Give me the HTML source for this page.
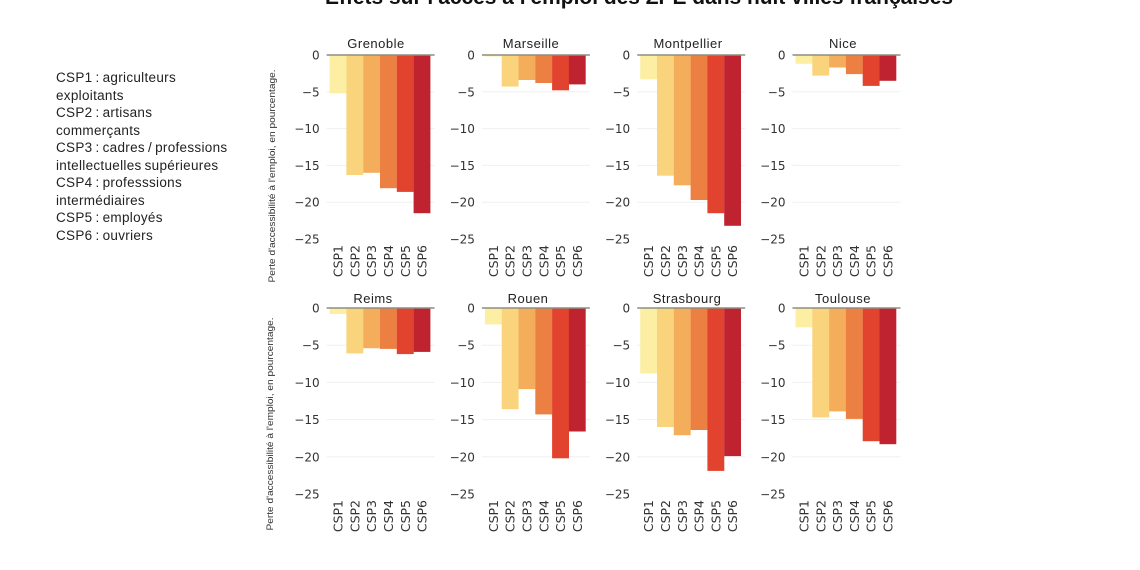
<!DOCTYPE html>
<html><head><meta charset="utf-8"><style>
html,body{margin:0;padding:0;background:#fff;width:1140px;height:570px;overflow:hidden}
svg{display:block}
.tk{font-family:"DejaVu Sans",sans-serif;font-size:12px;fill:#333;text-anchor:end}
.xt{font-family:"DejaVu Sans",sans-serif;font-size:12.5px;fill:#333;text-anchor:end}
.pt{font-family:"Liberation Sans",sans-serif;font-size:13px;fill:#222;text-anchor:middle;letter-spacing:0.5px}
.lg{font-family:"Liberation Sans",sans-serif;font-size:13.5px;fill:#222;letter-spacing:0.3px;word-spacing:-1px}
.yl{font-family:"Liberation Sans",sans-serif;font-size:9px;fill:#333;text-anchor:middle}
.g{stroke:#f0f0f0;stroke-width:1}
.z{stroke:#8e8e80;stroke-width:1.5}
</style></head><body>
<svg width="1140" height="570" viewBox="0 0 1140 570" xmlns="http://www.w3.org/2000/svg">
<text x="325" y="4" font-family="Liberation Sans, sans-serif" font-weight="bold" font-size="21" fill="#111" textLength="628" lengthAdjust="spacingAndGlyphs">Effets sur l'accès à l'emploi des ZPE dans huit villes françaises</text>

<!-- legend -->
<text class="lg" x="56" y="82">CSP1 : agriculteurs</text>
<text class="lg" x="56" y="100">exploitants</text>
<text class="lg" x="56" y="117">CSP2 : artisans</text>
<text class="lg" x="56" y="135">commerçants</text>
<text class="lg" x="56" y="152">CSP3 : cadres / professions</text>
<text class="lg" x="56" y="170">intellectuelles supérieures</text>
<text class="lg" x="56" y="187">CSP4 : professsions</text>
<text class="lg" x="56" y="205">intermédiaires</text>
<text class="lg" x="56" y="222">CSP5 : employés</text>
<text class="lg" x="56" y="240">CSP6 : ouvriers</text>

<!-- y labels -->
<text class="yl" transform="translate(275,176) rotate(-90)" textLength="213" lengthAdjust="spacingAndGlyphs">Perte d'accessibilité à l'emploi, en pourcentage.</text>
<text class="yl" transform="translate(273,424) rotate(-90)" textLength="213" lengthAdjust="spacingAndGlyphs">Perte d'accessibilité à l'emploi, en pourcentage.</text>

<!-- gridlines -->
<g class="g">
<line x1="326.6" x2="434.6" y1="91.8" y2="91.8"/><line x1="326.6" x2="434.6" y1="128.6" y2="128.6"/><line x1="326.6" x2="434.6" y1="165.4" y2="165.4"/><line x1="326.6" x2="434.6" y1="202.2" y2="202.2"/>
<line x1="481.9" x2="589.9" y1="91.8" y2="91.8"/><line x1="481.9" x2="589.9" y1="128.6" y2="128.6"/><line x1="481.9" x2="589.9" y1="165.4" y2="165.4"/><line x1="481.9" x2="589.9" y1="202.2" y2="202.2"/>
<line x1="637.2" x2="745.2" y1="91.8" y2="91.8"/><line x1="637.2" x2="745.2" y1="128.6" y2="128.6"/><line x1="637.2" x2="745.2" y1="165.4" y2="165.4"/><line x1="637.2" x2="745.2" y1="202.2" y2="202.2"/>
<line x1="792.5" x2="900.5" y1="91.8" y2="91.8"/><line x1="792.5" x2="900.5" y1="128.6" y2="128.6"/><line x1="792.5" x2="900.5" y1="165.4" y2="165.4"/><line x1="792.5" x2="900.5" y1="202.2" y2="202.2"/>
<line x1="326.6" x2="434.6" y1="345.2" y2="345.2"/><line x1="326.6" x2="434.6" y1="382.4" y2="382.4"/><line x1="326.6" x2="434.6" y1="419.6" y2="419.6"/><line x1="326.6" x2="434.6" y1="456.8" y2="456.8"/>
<line x1="481.9" x2="589.9" y1="345.2" y2="345.2"/><line x1="481.9" x2="589.9" y1="382.4" y2="382.4"/><line x1="481.9" x2="589.9" y1="419.6" y2="419.6"/><line x1="481.9" x2="589.9" y1="456.8" y2="456.8"/>
<line x1="637.2" x2="745.2" y1="345.2" y2="345.2"/><line x1="637.2" x2="745.2" y1="382.4" y2="382.4"/><line x1="637.2" x2="745.2" y1="419.6" y2="419.6"/><line x1="637.2" x2="745.2" y1="456.8" y2="456.8"/>
<line x1="792.5" x2="900.5" y1="345.2" y2="345.2"/><line x1="792.5" x2="900.5" y1="382.4" y2="382.4"/><line x1="792.5" x2="900.5" y1="419.6" y2="419.6"/><line x1="792.5" x2="900.5" y1="456.8" y2="456.8"/>
</g>

<!-- y tick labels -->
<g class="tk">
<text x="319.6" y="59.5">0</text><text x="319.6" y="96.3">−5</text><text x="319.6" y="133.1">−10</text><text x="319.6" y="169.9">−15</text><text x="319.6" y="206.7">−20</text><text x="319.6" y="243.5">−25</text>
<text x="474.9" y="59.5">0</text><text x="474.9" y="96.3">−5</text><text x="474.9" y="133.1">−10</text><text x="474.9" y="169.9">−15</text><text x="474.9" y="206.7">−20</text><text x="474.9" y="243.5">−25</text>
<text x="630.2" y="59.5">0</text><text x="630.2" y="96.3">−5</text><text x="630.2" y="133.1">−10</text><text x="630.2" y="169.9">−15</text><text x="630.2" y="206.7">−20</text><text x="630.2" y="243.5">−25</text>
<text x="785.5" y="59.5">0</text><text x="785.5" y="96.3">−5</text><text x="785.5" y="133.1">−10</text><text x="785.5" y="169.9">−15</text><text x="785.5" y="206.7">−20</text><text x="785.5" y="243.5">−25</text>

<text x="319.6" y="312.5">0</text><text x="319.6" y="349.7">−5</text><text x="319.6" y="386.9">−10</text><text x="319.6" y="424.1">−15</text><text x="319.6" y="461.3">−20</text><text x="319.6" y="498.5">−25</text>
<text x="474.9" y="312.5">0</text><text x="474.9" y="349.7">−5</text><text x="474.9" y="386.9">−10</text><text x="474.9" y="424.1">−15</text><text x="474.9" y="461.3">−20</text><text x="474.9" y="498.5">−25</text>
<text x="630.2" y="312.5">0</text><text x="630.2" y="349.7">−5</text><text x="630.2" y="386.9">−10</text><text x="630.2" y="424.1">−15</text><text x="630.2" y="461.3">−20</text><text x="630.2" y="498.5">−25</text>
<text x="785.5" y="312.5">0</text><text x="785.5" y="349.7">−5</text><text x="785.5" y="386.9">−10</text><text x="785.5" y="424.1">−15</text><text x="785.5" y="461.3">−20</text><text x="785.5" y="498.5">−25</text>
</g>

<!-- panel titles -->
<g class="pt">
<text x="376" y="48">Grenoble</text>
<text x="531" y="48">Marseille</text>
<text x="688" y="48">Montpellier</text>
<text x="843" y="48">Nice</text>
<text x="373" y="303">Reims</text>
<text x="528" y="303">Rouen</text>
<text x="687" y="303">Strasbourg</text>
<text x="843" y="303">Toulouse</text>
</g>

<!-- bars top row (y0=55) -->
<rect x="329.6" y="55" width="16.9" height="38.3" fill="#fcefa4"/>
<rect x="346.4" y="55" width="16.9" height="120.0" fill="#fad47c"/>
<rect x="363.2" y="55" width="16.9" height="117.8" fill="#f3ad5b"/>
<rect x="380.0" y="55" width="16.9" height="133.2" fill="#ec7f42"/>
<rect x="396.8" y="55" width="16.9" height="136.9" fill="#e2432f"/>
<rect x="413.6" y="55" width="16.8" height="158.2" fill="#bf2330"/>

<rect x="484.9" y="55" width="16.9" height="1.5" fill="#fcefa4"/>
<rect x="501.7" y="55" width="16.9" height="31.6" fill="#fad47c"/>
<rect x="518.5" y="55" width="16.9" height="25.0" fill="#f3ad5b"/>
<rect x="535.3" y="55" width="16.9" height="28.0" fill="#ec7f42"/>
<rect x="552.1" y="55" width="16.9" height="35.3" fill="#e2432f"/>
<rect x="568.9" y="55" width="16.8" height="29.4" fill="#bf2330"/>

<rect x="640.2" y="55" width="16.9" height="24.3" fill="#fcefa4"/>
<rect x="657.0" y="55" width="16.9" height="120.7" fill="#fad47c"/>
<rect x="673.8" y="55" width="16.9" height="130.3" fill="#f3ad5b"/>
<rect x="690.6" y="55" width="16.9" height="145.0" fill="#ec7f42"/>
<rect x="707.4" y="55" width="16.9" height="158.2" fill="#e2432f"/>
<rect x="724.2" y="55" width="16.8" height="170.8" fill="#bf2330"/>

<rect x="795.5" y="55" width="16.9" height="8.8" fill="#fcefa4"/>
<rect x="812.3" y="55" width="16.9" height="20.6" fill="#fad47c"/>
<rect x="829.1" y="55" width="16.9" height="12.5" fill="#f3ad5b"/>
<rect x="845.9" y="55" width="16.9" height="19.1" fill="#ec7f42"/>
<rect x="862.7" y="55" width="16.9" height="30.9" fill="#e2432f"/>
<rect x="879.5" y="55" width="16.8" height="25.8" fill="#bf2330"/>

<!-- bars bottom row (y0=308) -->
<rect x="329.6" y="308" width="16.9" height="6.0" fill="#fcefa4"/>
<rect x="346.4" y="308" width="16.9" height="45.4" fill="#fad47c"/>
<rect x="363.2" y="308" width="16.9" height="40.2" fill="#f3ad5b"/>
<rect x="380.0" y="308" width="16.9" height="40.9" fill="#ec7f42"/>
<rect x="396.8" y="308" width="16.9" height="46.1" fill="#e2432f"/>
<rect x="413.6" y="308" width="16.8" height="43.9" fill="#bf2330"/>

<rect x="484.9" y="308" width="16.9" height="16.4" fill="#fcefa4"/>
<rect x="501.7" y="308" width="16.9" height="101.2" fill="#fad47c"/>
<rect x="518.5" y="308" width="16.9" height="81.1" fill="#f3ad5b"/>
<rect x="535.3" y="308" width="16.9" height="106.4" fill="#ec7f42"/>
<rect x="552.1" y="308" width="16.9" height="150.3" fill="#e2432f"/>
<rect x="568.9" y="308" width="16.8" height="123.5" fill="#bf2330"/>

<rect x="640.2" y="308" width="16.9" height="65.5" fill="#fcefa4"/>
<rect x="657.0" y="308" width="16.9" height="119.0" fill="#fad47c"/>
<rect x="673.8" y="308" width="16.9" height="127.2" fill="#f3ad5b"/>
<rect x="690.6" y="308" width="16.9" height="122.0" fill="#ec7f42"/>
<rect x="707.4" y="308" width="16.9" height="162.9" fill="#e2432f"/>
<rect x="724.2" y="308" width="16.8" height="148.1" fill="#bf2330"/>

<rect x="795.5" y="308" width="16.9" height="19.3" fill="#fcefa4"/>
<rect x="812.3" y="308" width="16.9" height="109.4" fill="#fad47c"/>
<rect x="829.1" y="308" width="16.9" height="103.4" fill="#f3ad5b"/>
<rect x="845.9" y="308" width="16.9" height="110.9" fill="#ec7f42"/>
<rect x="862.7" y="308" width="16.9" height="133.2" fill="#e2432f"/>
<rect x="879.5" y="308" width="16.8" height="136.2" fill="#bf2330"/>

<!-- zero lines -->
<g class="z">
<line x1="326.6" x2="434.6" y1="55" y2="55"/>
<line x1="481.9" x2="589.9" y1="55" y2="55"/>
<line x1="637.2" x2="745.2" y1="55" y2="55"/>
<line x1="792.5" x2="900.5" y1="55" y2="55"/>
<line x1="326.6" x2="434.6" y1="308" y2="308"/>
<line x1="481.9" x2="589.9" y1="308" y2="308"/>
<line x1="637.2" x2="745.2" y1="308" y2="308"/>
<line x1="792.5" x2="900.5" y1="308" y2="308"/>
</g>

<!-- x tick labels -->
<g class="xt">
<text transform="translate(342.6,245) rotate(-90)">CSP1</text><text transform="translate(359.4,245) rotate(-90)">CSP2</text><text transform="translate(376.2,245) rotate(-90)">CSP3</text><text transform="translate(393,245) rotate(-90)">CSP4</text><text transform="translate(409.8,245) rotate(-90)">CSP5</text><text transform="translate(426.6,245) rotate(-90)">CSP6</text>
<text transform="translate(497.9,245) rotate(-90)">CSP1</text><text transform="translate(514.7,245) rotate(-90)">CSP2</text><text transform="translate(531.5,245) rotate(-90)">CSP3</text><text transform="translate(548.3,245) rotate(-90)">CSP4</text><text transform="translate(565.1,245) rotate(-90)">CSP5</text><text transform="translate(581.9,245) rotate(-90)">CSP6</text>
<text transform="translate(653.2,245) rotate(-90)">CSP1</text><text transform="translate(670,245) rotate(-90)">CSP2</text><text transform="translate(686.8,245) rotate(-90)">CSP3</text><text transform="translate(703.6,245) rotate(-90)">CSP4</text><text transform="translate(720.4,245) rotate(-90)">CSP5</text><text transform="translate(737.2,245) rotate(-90)">CSP6</text>
<text transform="translate(808.5,245) rotate(-90)">CSP1</text><text transform="translate(825.3,245) rotate(-90)">CSP2</text><text transform="translate(842.1,245) rotate(-90)">CSP3</text><text transform="translate(858.9,245) rotate(-90)">CSP4</text><text transform="translate(875.7,245) rotate(-90)">CSP5</text><text transform="translate(892.5,245) rotate(-90)">CSP6</text>

<text transform="translate(342.6,500) rotate(-90)">CSP1</text><text transform="translate(359.4,500) rotate(-90)">CSP2</text><text transform="translate(376.2,500) rotate(-90)">CSP3</text><text transform="translate(393,500) rotate(-90)">CSP4</text><text transform="translate(409.8,500) rotate(-90)">CSP5</text><text transform="translate(426.6,500) rotate(-90)">CSP6</text>
<text transform="translate(497.9,500) rotate(-90)">CSP1</text><text transform="translate(514.7,500) rotate(-90)">CSP2</text><text transform="translate(531.5,500) rotate(-90)">CSP3</text><text transform="translate(548.3,500) rotate(-90)">CSP4</text><text transform="translate(565.1,500) rotate(-90)">CSP5</text><text transform="translate(581.9,500) rotate(-90)">CSP6</text>
<text transform="translate(653.2,500) rotate(-90)">CSP1</text><text transform="translate(670,500) rotate(-90)">CSP2</text><text transform="translate(686.8,500) rotate(-90)">CSP3</text><text transform="translate(703.6,500) rotate(-90)">CSP4</text><text transform="translate(720.4,500) rotate(-90)">CSP5</text><text transform="translate(737.2,500) rotate(-90)">CSP6</text>
<text transform="translate(808.5,500) rotate(-90)">CSP1</text><text transform="translate(825.3,500) rotate(-90)">CSP2</text><text transform="translate(842.1,500) rotate(-90)">CSP3</text><text transform="translate(858.9,500) rotate(-90)">CSP4</text><text transform="translate(875.7,500) rotate(-90)">CSP5</text><text transform="translate(892.5,500) rotate(-90)">CSP6</text>
</g>
</svg>
</body></html>
